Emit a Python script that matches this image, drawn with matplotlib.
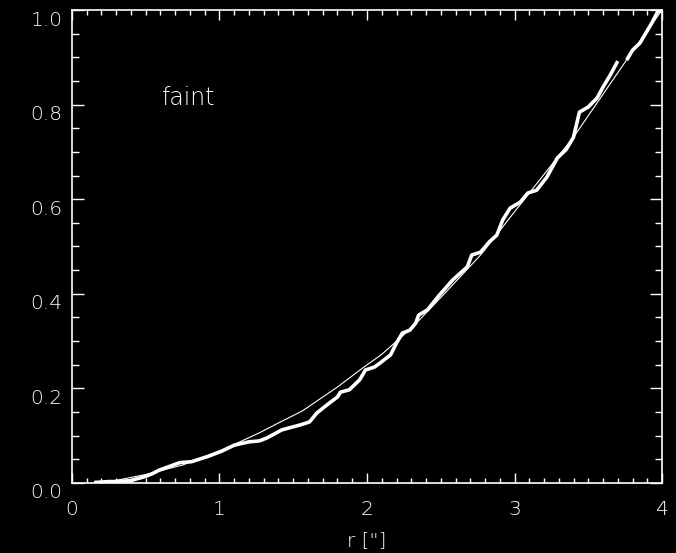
import numpy as np
import matplotlib
matplotlib.use('Agg')
import matplotlib.pyplot as plt
from matplotlib import transforms
from matplotlib.ticker import MultipleLocator

# cumulative fraction of the faint sample vs radius
r_data = [0.15, 0.20, 0.25, 0.30, 0.35, 0.40, 0.43, 0.49, 0.54, 0.59, 0.66, 0.73, 0.81,
          0.92, 1.02, 1.10, 1.20, 1.27, 1.32, 1.38, 1.42, 1.49, 1.55, 1.61, 1.66,
          1.72, 1.80, 1.82, 1.88, 1.95, 1.99, 2.05, 2.09, 2.16, 2.20, 2.24, 2.29,
          2.33, 2.35, 2.41, 2.49, 2.58, 2.68, 2.71, 2.77, 2.83, 2.88, 2.92, 2.97,
          3.04, 3.09, 3.15, 3.22, 3.29, 3.35, 3.40, 3.44, 3.50, 3.56, 3.60, 3.65,
          3.70]
f_data = [0.001, 0.002, 0.003, 0.003, 0.004, 0.005, 0.008, 0.013, 0.019, 0.027, 0.035,
          0.043, 0.045, 0.056, 0.068, 0.080, 0.087, 0.089, 0.095, 0.105, 0.112,
          0.118, 0.123, 0.129, 0.148, 0.163, 0.182, 0.192, 0.197, 0.218, 0.239,
          0.245, 0.254, 0.271, 0.296, 0.317, 0.323, 0.338, 0.355, 0.366, 0.397,
          0.429, 0.457, 0.482, 0.488, 0.510, 0.524, 0.556, 0.581, 0.594, 0.613,
          0.619, 0.647, 0.687, 0.705, 0.731, 0.784, 0.795, 0.814, 0.837, 0.863,
          0.892]
r_data2 = [3.76, 3.80, 3.85, 3.89, 3.93, 3.97, 4.00]
f_data2 = [0.894, 0.915, 0.930, 0.951, 0.972, 0.996, 1.000]

# model curve for a uniform distribution
r_model = [0.20, 0.34, 0.50, 0.75, 1.02, 1.27, 1.40, 1.56, 1.80, 1.97, 2.10, 2.31,
           2.50, 2.77, 3.10, 3.40, 3.75, 4.00]
f_model = [0.000, 0.008, 0.018, 0.038, 0.070, 0.106, 0.127, 0.152, 0.203, 0.243,
           0.272, 0.330, 0.392, 0.482, 0.613, 0.731, 0.890, 1.000]

x_ticks = [0, 1, 2, 3, 4]
x_labels = ['0', '1', '2', '3', '4']
y_ticks = [0.0, 0.2, 0.4, 0.6, 0.8, 1.0]
y_labels = ['0.0', '0.2', '0.4', '0.6', '0.8', '1.0']

fig = plt.figure(figsize=(6.76, 5.53), dpi=100, facecolor='black')
ax = fig.add_axes([0.1065, 0.1266, 0.8728, 0.8553], facecolor='black')

ax.plot(r_model, f_model, color='white', lw=0.8)
ax.plot(r_data, f_data, color='white', lw=2.6, solid_capstyle='butt')
ax.plot(r_data2, f_data2, color='white', lw=2.6, solid_capstyle='butt')

ax.text(0.61, 0.80, 'faint', color='white', fontsize=17, fontweight='light')

ax.set_xlim(0, 4)
ax.set_ylim(0, 1)
ax.set_xticks(x_ticks)
ax.set_xticklabels(x_labels)
ax.set_yticks(y_ticks)
ax.set_yticklabels(y_labels)
ax.xaxis.set_minor_locator(MultipleLocator(0.1))
ax.yaxis.set_minor_locator(MultipleLocator(0.05))

for s in ax.spines.values():
    s.set_color('white')
    s.set_linewidth(1.2)
ax.tick_params(axis='both', which='both', direction='in', colors='white',
               top=True, right=True, labelsize=14.5, width=1.0)
ax.tick_params(axis='x', which='major', length=7, pad=12)
ax.tick_params(axis='x', which='minor', length=3.6)
ax.tick_params(axis='y', which='major', length=8.5, pad=7)
ax.tick_params(axis='y', which='minor', length=5)
for lbl in ax.get_xticklabels() + ax.get_yticklabels():
    lbl.set_fontweight('light')

# y labels sit a little below their ticks
offset = transforms.ScaledTranslation(0, -0.08, fig.dpi_scale_trans)
for lbl in ax.get_yticklabels():
    lbl.set_transform(lbl.get_transform() + offset)

ax.set_xlabel('r ["]', color='white', fontsize=14.5, fontweight='light', labelpad=9)

fig.savefig('out.png', dpi=100, facecolor='black')
